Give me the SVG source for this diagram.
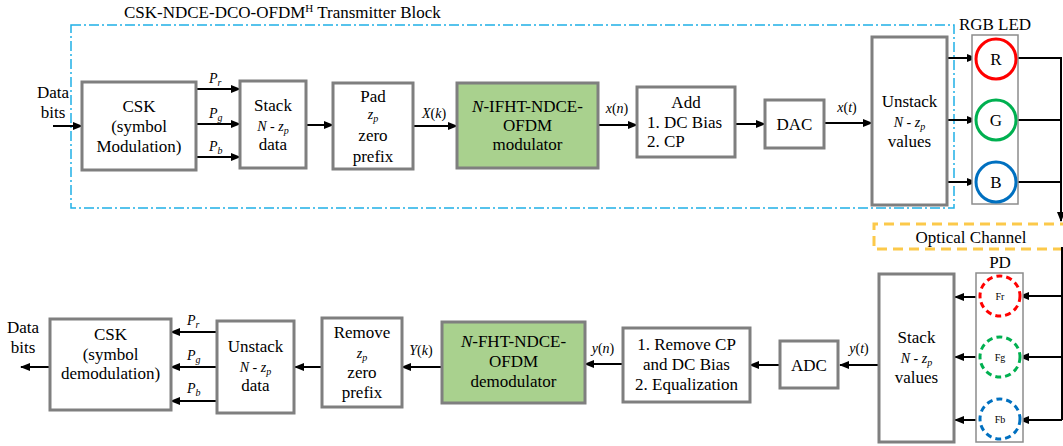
<svg xmlns="http://www.w3.org/2000/svg" width="1063" height="446" viewBox="0 0 1063 446">
<defs>
<style>
text{font-family:"Liberation Serif","Times New Roman",serif;font-size:17px;fill:#000}
.m{font-size:14px;font-style:italic}
.s{font-size:10px}
.c{text-anchor:middle}
.box{fill:#fff;stroke:#7f7f7f;stroke-width:3}
.grn{fill:#a9d18e;stroke:#7f7f7f;stroke-width:3}
.thin{fill:#fff;stroke:#8c8c8c;stroke-width:1.5}
.w{stroke:#000;stroke-width:2;fill:none}
.a{stroke:#000;stroke-width:2;fill:none;marker-end:url(#ah)}
.led{fill:#fff;stroke-width:3}
.pd{fill:#fff;stroke-width:3;stroke-dasharray:6 4}
</style>
<marker id="ah" markerUnits="userSpaceOnUse" markerWidth="10" markerHeight="8" refX="9" refY="4" orient="auto">
<path d="M0,0 L10,4 L0,8 Z" fill="#000"/>
</marker>
</defs>

<g id="tx-block">
<rect x="71" y="25" width="883" height="183" fill="none" stroke="#1fb0e6" stroke-width="1.5" stroke-dasharray="10 3 2 3"/>
<text x="124" y="18">CSK-NDCE-DCO-OFDM<tspan font-size="11" dy="-6">H</tspan><tspan dy="6"> Transmitter Block</tspan></text>
</g>

<g id="optical-channel">
<path d="M1070,224 H874 V249 H1070" fill="none" stroke="#fcc94a" stroke-width="3" stroke-dasharray="10 6"/>
<text x="971" y="243" class="c">Optical Channel</text>
</g>

<g id="connectors">
<!-- top row -->
<path class="a" d="M53,126 H82"/>
<path class="a" d="M196,89 H240"/>
<path class="a" d="M196,124 H240"/>
<path class="a" d="M196,157 H240"/>
<path class="a" d="M306,125 H333"/>
<path class="a" d="M413,126 H457"/>
<path class="a" d="M598,125 H637"/>
<path class="a" d="M735,124 H765"/>
<path class="a" d="M824,123 H872"/>
<path class="a" d="M947,58 H976"/>
<path class="a" d="M947,120 H976"/>
<path class="a" d="M947,182 H976"/>
<path class="w" d="M1016,58 H1061"/>
<path class="w" d="M1016,120 H1061"/>
<path class="w" d="M1016,182 H1061"/>
<path class="a" d="M1061,57 V221"/>
<!-- bottom row -->
<path class="w" d="M1062,247 V420"/>
<path class="a" d="M1062,296 H1020"/>
<path class="a" d="M1062,357 H1020"/>
<path class="a" d="M1062,420 H1020"/>
<path class="a" d="M980,297 H955"/>
<path class="a" d="M980,357 H955"/>
<path class="a" d="M980,420 H955"/>
<path class="a" d="M879,365 H840"/>
<path class="a" d="M780,365 H750"/>
<path class="a" d="M623,364 H585"/>
<path class="a" d="M442,367 H402"/>
<path class="a" d="M322,367 H295"/>
<path class="a" d="M217,332 H171"/>
<path class="a" d="M217,367 H171"/>
<path class="a" d="M217,401 H171"/>
<path class="a" d="M50,367 H21"/>
<!-- labels -->
<text x="209" y="83" class="m">P<tspan class="s" dy="3">r</tspan></text>
<text x="209" y="118" class="m">P<tspan class="s" dy="3">g</tspan></text>
<text x="209" y="151" class="m">P<tspan class="s" dy="3">b</tspan></text>
<text x="434" y="118" class="m c">X<tspan font-style="normal">(</tspan>k<tspan font-style="normal">)</tspan></text>
<text x="617" y="113" class="m c">x<tspan font-style="normal">(</tspan>n<tspan font-style="normal">)</tspan></text>
<text x="847" y="112" class="m c">x<tspan font-style="normal">(</tspan>t<tspan font-style="normal">)</tspan></text>
<text x="859" y="353" class="m c">y<tspan font-style="normal">(</tspan>t<tspan font-style="normal">)</tspan></text>
<text x="603" y="353" class="m c">y<tspan font-style="normal">(</tspan>n<tspan font-style="normal">)</tspan></text>
<text x="421" y="355" class="m c">Y<tspan font-style="normal">(</tspan>k<tspan font-style="normal">)</tspan></text>
<text x="187" y="325" class="m">P<tspan class="s" dy="3">r</tspan></text>
<text x="187" y="360" class="m">P<tspan class="s" dy="3">g</tspan></text>
<text x="187" y="393" class="m">P<tspan class="s" dy="3">b</tspan></text>
</g>

<g id="data-in">
<text x="53" y="98" class="c">Data</text>
<text x="53" y="118" class="c">bits</text>
</g>

<g id="csk-mod">
<rect class="box" x="82" y="82" width="114" height="88"/>
<text x="139" y="112" class="c">CSK</text>
<text x="139" y="132" class="c">(symbol</text>
<text x="139" y="152" class="c">Modulation)</text>
</g>

<g id="stack-tx">
<rect class="box" x="240" y="81" width="66" height="87"/>
<text x="273" y="111" class="c">Stack</text>
<text x="273" y="131" class="m c">N<tspan font-style="normal"> - </tspan>z<tspan class="s" dy="3">p</tspan></text>
<text x="273" y="150" class="c">data</text>
</g>

<g id="pad">
<rect class="box" x="333" y="83" width="80" height="86"/>
<text x="373" y="102" class="c">Pad</text>
<text x="373" y="119" class="m c">z<tspan class="s" dy="3">p</tspan></text>
<text x="373" y="141" class="c">zero</text>
<text x="373" y="162" class="c">prefix</text>
</g>

<g id="ifht-mod">
<rect class="grn" x="457" y="83" width="141" height="85"/>
<text x="527.5" y="112" class="c"><tspan font-style="italic">N</tspan>-IFHT-NDCE-</text>
<text x="527.5" y="131" class="c">OFDM</text>
<text x="527.5" y="150" class="c">modulator</text>
</g>

<g id="add">
<rect class="box" x="637" y="87" width="98" height="70"/>
<text x="686" y="108" class="c">Add</text>
<text x="647" y="128">1. DC Bias</text>
<text x="647" y="147">2. CP</text>
</g>

<g id="dac">
<rect class="box" x="765" y="100" width="59" height="48"/>
<text x="794.5" y="130" class="c">DAC</text>
</g>

<g id="unstack-tx">
<rect class="box" x="872" y="37" width="75" height="168"/>
<text x="909.5" y="107" class="c">Unstack</text>
<text x="909.5" y="127" class="m c">N<tspan font-style="normal"> - </tspan>z<tspan class="s" dy="3">p</tspan></text>
<text x="909.5" y="147" class="c">values</text>
</g>

<g id="rgb-led">
<rect class="thin" x="972" y="35" width="46" height="169"/>
<text x="995" y="30" class="c">RGB LED</text>
<circle class="led" cx="996" cy="59" r="20" stroke="#ff0000"/>
<text x="996" y="65" class="c">R</text>
<circle class="led" cx="996" cy="120" r="20" stroke="#00b050"/>
<text x="996" y="126" class="c">G</text>
<circle class="led" cx="996" cy="182" r="20" stroke="#0070c0"/>
<text x="996" y="188" class="c">B</text>
</g>

<g id="pd">
<rect class="thin" x="976" y="273" width="47" height="169"/>
<text x="1000" y="268" class="c">PD</text>
<circle class="pd" cx="1000" cy="296" r="20" stroke="#ff0000"/>
<text x="1000" y="300" class="s c">Fr</text>
<circle class="pd" cx="1000" cy="357" r="20" stroke="#00b050"/>
<text x="1000" y="361" class="s c">Fg</text>
<circle class="pd" cx="1000" cy="419" r="20" stroke="#0070c0"/>
<text x="1000" y="423" class="s c">Fb</text>
</g>

<g id="stack-rx">
<rect class="box" x="879" y="274" width="75" height="168"/>
<text x="916.5" y="343" class="c">Stack</text>
<text x="916.5" y="363" class="m c">N<tspan font-style="normal"> - </tspan>z<tspan class="s" dy="3">p</tspan></text>
<text x="916.5" y="383" class="c">values</text>
</g>

<g id="adc">
<rect class="box" x="780" y="341" width="58" height="47"/>
<text x="809" y="371" class="c">ADC</text>
</g>

<g id="remove-cp">
<rect class="box" x="623" y="328" width="127" height="74"/>
<text x="686.5" y="350" class="c">1. Remove CP</text>
<text x="686.5" y="370" class="c">and DC Bias</text>
<text x="686.5" y="390" class="c">2. Equalization</text>
</g>

<g id="fht-demod">
<rect class="grn" x="442" y="322" width="143" height="81"/>
<text x="513.5" y="347" class="c"><tspan font-style="italic">N</tspan>-FHT-NDCE-</text>
<text x="513.5" y="367" class="c">OFDM</text>
<text x="513.5" y="387" class="c">demodulator</text>
</g>

<g id="remove-zp">
<rect class="box" x="322" y="318" width="80" height="89"/>
<text x="362" y="338" class="c">Remove</text>
<text x="362" y="358" class="m c">z<tspan class="s" dy="3">p</tspan></text>
<text x="362" y="378" class="c">zero</text>
<text x="362" y="398" class="c">prefix</text>
</g>

<g id="unstack-rx">
<rect class="box" x="217" y="321" width="77" height="92"/>
<text x="255.5" y="352" class="c">Unstack</text>
<text x="255.5" y="372" class="m c">N<tspan font-style="normal"> - </tspan>z<tspan class="s" dy="3">p</tspan></text>
<text x="255.5" y="391" class="c">data</text>
</g>

<g id="csk-demod">
<rect class="box" x="50" y="319" width="121" height="91"/>
<text x="110.5" y="340" class="c">CSK</text>
<text x="110.5" y="360" class="c">(symbol</text>
<text x="110.5" y="379" class="c">demodulation)</text>
</g>

<g id="data-out">
<text x="23" y="333" class="c">Data</text>
<text x="23" y="353" class="c">bits</text>
</g>
</svg>
